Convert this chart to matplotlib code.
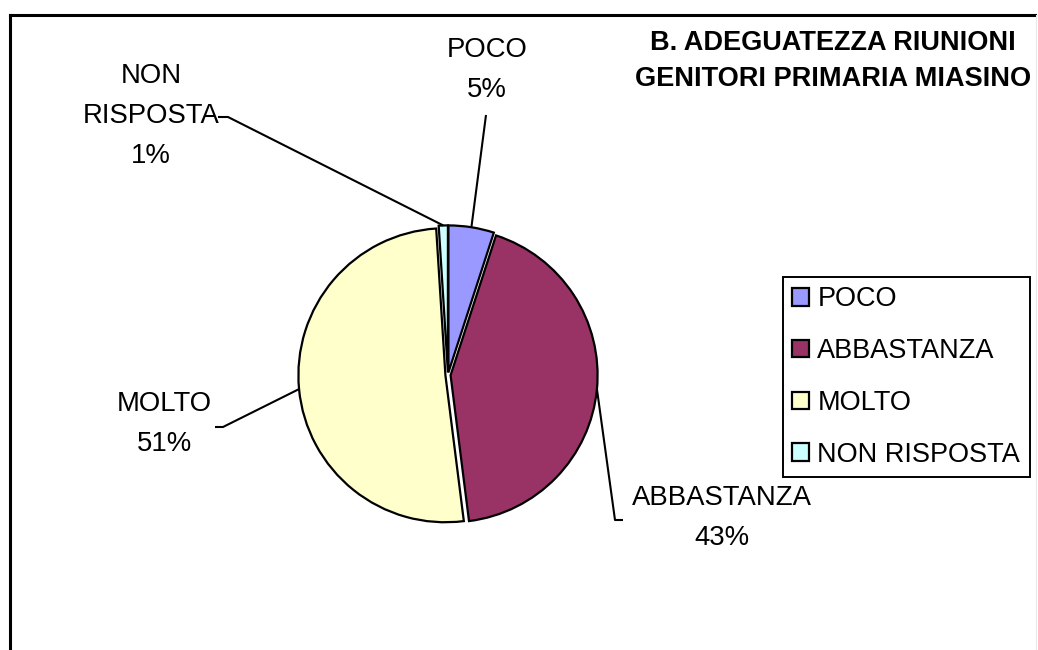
import numpy as np
import matplotlib
matplotlib.use("Agg")
import matplotlib.pyplot as plt

# Survey answers and their shares (percent)
categories = ["POCO", "ABBASTANZA", "MOLTO", "NON RISPOSTA"]
label_text = ["POCO", "ABBASTANZA", "MOLTO", "NON\nRISPOSTA"]
percent = [5, 43, 51, 1]
colors = ["#9999FF", "#993366", "#FFFFCC", "#CCFFFF"]
title_lines = ["B. ADEGUATEZZA RIUNIONI", "GENITORI PRIMARIA MIASINO"]

plt.rcParams['font.family'] = ['Liberation Sans', 'DejaVu Sans']

W, H = 1038, 650
fig = plt.figure(figsize=(W / 100, H / 100), dpi=100)
ax = fig.add_axes([0, 0, 1, 1])


def Y(py):
    """Convert a top-down pixel row to the axes' bottom-up y."""
    return H - py


# the axes works in pixel units, so the explode offset is in pixels too
cx, cy, R = 448, Y(375), 147
EXPLODE_PX = 2.6
wedges, _ = ax.pie(percent, colors=colors, startangle=90, counterclock=False,
                   center=(cx, cy), radius=R,
                   explode=[EXPLODE_PX] * len(percent),
                   wedgeprops=dict(edgecolor="black", linewidth=1.6),
                   frame=True)
ax.set_xlim(0, W)
ax.set_ylim(0, H)
ax.set_aspect("equal")
ax.axis("off")

FS = 19.8
LINE_STEP = 40  # px between label lines

# label block centres and leader elbows (pixel rows from the top)
label_centre = [(487, 70), (722, 518), (164, 424), (151, 116)]
leader_pts = [
    [(486, 115)],
    [(615, 520), (623, 520)],
    [(223, 427), (215, 427)],
    [(228, 117), (218, 117)],
]

for w, txt, p, (lx, ly), pts in zip(wedges, label_text, percent,
                                   label_centre, leader_pts):
    mid = np.deg2rad((w.theta1 + w.theta2) / 2)
    sx = w.center[0] + w.r * np.cos(mid)
    sy = w.center[1] + w.r * np.sin(mid)
    xs = [sx] + [q[0] for q in pts]
    ys = [sy] + [Y(q[1]) for q in pts]
    ax.plot(xs, ys, color="black", lw=1.5, solid_capstyle="butt")

    lines = txt.split("\n") + [f"{p}%"]
    n = len(lines)
    for i, s in enumerate(lines):
        yy = ly + (i - (n - 1) / 2) * LINE_STEP
        ax.text(lx, Y(yy), s, ha="center", va="center", fontsize=FS,
                color="black")

# title
for i, s in enumerate(title_lines):
    ax.text(833, Y(43 + i * 36.5), s, ha="center", va="center",
            fontsize=19.5, fontweight="bold", color="black")

# outer frame
ax.plot([10, 10], [Y(15), -5], color="black", lw=2.2,
        solid_capstyle="projecting")
ax.plot([10, 1035], [Y(15), Y(15)], color="black", lw=2.2,
        solid_capstyle="projecting")
ax.plot([1036, 1036], [Y(15), -5], color="#e8e8e8", lw=0.8)

leg = ax.legend(wedges, categories, loc="upper left",
                bbox_to_anchor=(783 / W, 1 - 277 / H),
                bbox_transform=fig.transFigure, borderaxespad=0,
                fontsize=19.5, frameon=True, fancybox=False, shadow=False,
                edgecolor="black", framealpha=1,
                handlelength=0.62, handleheight=0.62, handletextpad=0.3,
                labelspacing=0.95, borderpad=0.35)
leg.get_frame().set_linewidth(1.4)

fig.savefig("out.png", dpi=100)
